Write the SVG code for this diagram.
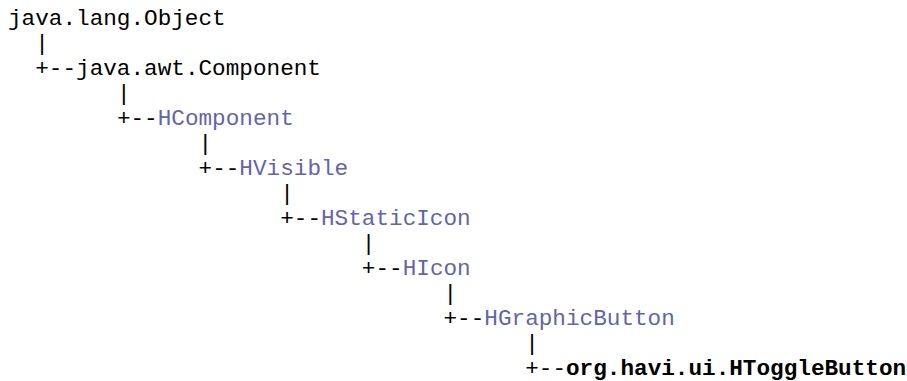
<svg xmlns="http://www.w3.org/2000/svg" width="907" height="381" viewBox="0 0 907 381">
<style>
text{font-family:"Liberation Mono","Courier New",monospace;font-size:22.68px;fill:#000}
.lk{fill:#6464a8}
.b{font-weight:bold}
</style>
<rect width="907" height="381" fill="#fff"/>
<g id="connectors">
<text x="35.22" y="50">|</text>
<text x="35.22" y="75">+--</text>
<text x="116.88" y="100">|</text>
<text x="116.88" y="125">+--</text>
<text x="198.54" y="150">|</text>
<text x="198.54" y="175">+--</text>
<text x="280.2" y="200">|</text>
<text x="280.2" y="225">+--</text>
<text x="361.86" y="250">|</text>
<text x="361.86" y="275">+--</text>
<text x="443.52" y="300">|</text>
<text x="443.52" y="325">+--</text>
<text x="525.18" y="350">|</text>
<text x="525.18" y="375">+--</text>
</g>
<g id="n-object"><text x="8" y="25">java.lang.Object</text></g>
<g id="n-component"><text x="76.05" y="75">java.awt.Component</text></g>
<g id="n-hcomponent"><text class="lk" x="157.71" y="125">HComponent</text></g>
<g id="n-hvisible"><text class="lk" x="239.37" y="175">HVisible</text></g>
<g id="n-hstaticicon"><text class="lk" x="321.03" y="225">HStaticIcon</text></g>
<g id="n-hicon"><text class="lk" x="402.69" y="275">HIcon</text></g>
<g id="n-hgraphicbutton"><text class="lk" x="484.35" y="325">HGraphicButton</text></g>
<g id="n-htogglebutton"><text class="b" x="566.01" y="375">org.havi.ui.HToggleButton</text></g>
</svg>
